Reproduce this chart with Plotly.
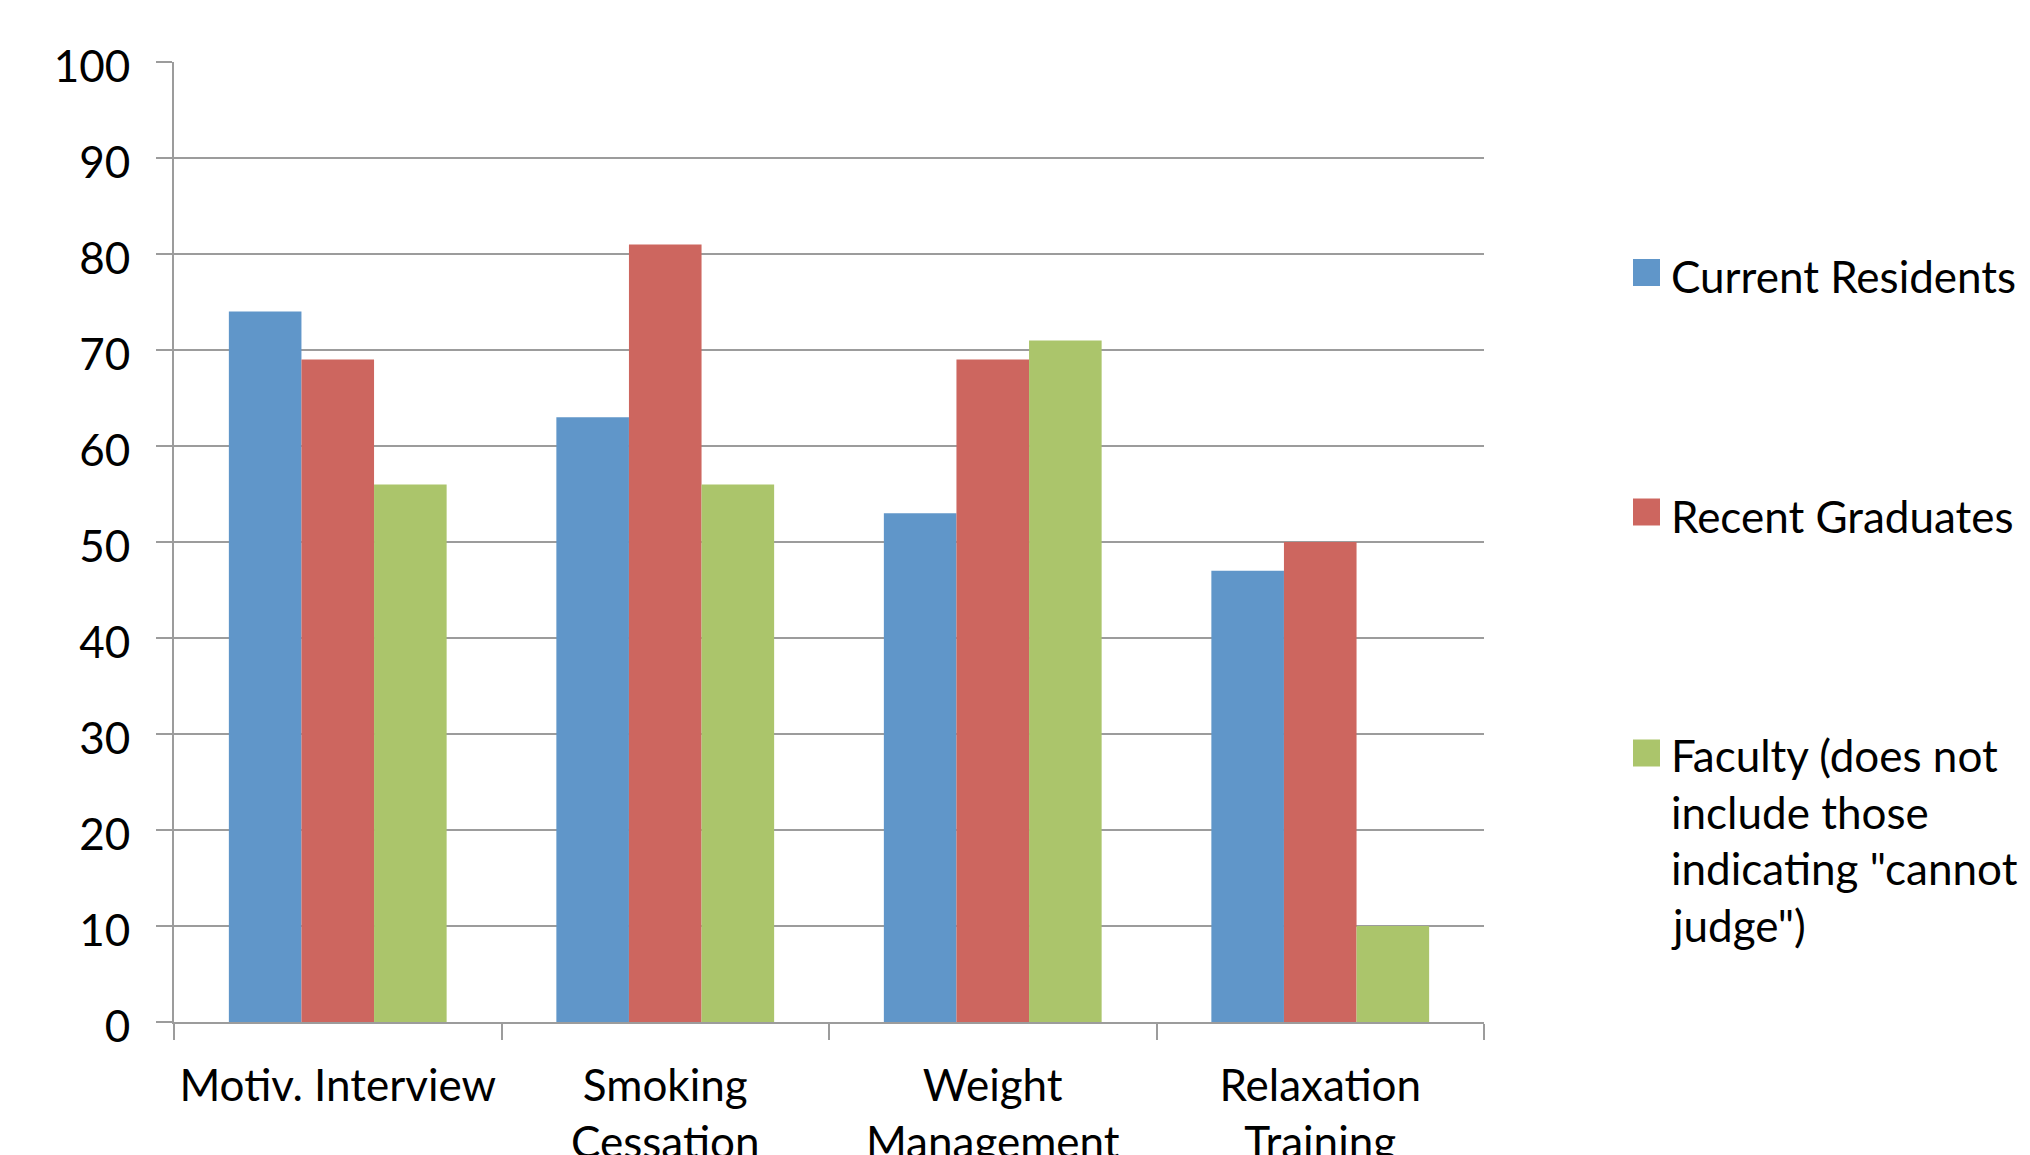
import plotly.graph_objects as go

# ---- data -------------------------------------------------------------
categories = [
    "Motiv. Interview",
    "Smoking<br>Cessation",
    "Weight<br>Management",
    "Relaxation<br>Training",
]
current_residents = [74, 63, 53, 47]
recent_graduates = [69, 81, 69, 50]
faculty = [56, 56, 71, 10]

series_names = [
    "Current Residents",
    "Recent Graduates",
    'Faculty (does not include those indicating "cannot judge")',
]
# legend text, broken into the lines shown beside each swatch
legend_lines = [
    ["Current Residents"],
    ["Recent Graduates"],
    ["Faculty (does not", "include those", 'indicating "cannot', 'judge")'],
]
y_tick_values = [0, 10, 20, 30, 40, 50, 60, 70, 80, 90, 100]

# ---- styling ------------------------------------------------------------
colors = ["#6096C9", "#CD665F", "#ABC56B"]
grid_gray = "#9C9C9C"
FONT = "Lato"
FONT_SIZE = 44

W, H = 2030, 1155
M_L, M_R, M_T, M_B = 174, 546, 62, 133
PLOT_W = W - M_L - M_R
PLOT_H = H - M_T - M_B


def px_to_paper_x(px):
    return (px - M_L) / PLOT_W


def px_to_paper_y(py):
    return (H - M_B - py) / PLOT_H


fig = go.Figure()
for name, vals, col in zip(series_names, [current_residents, recent_graduates, faculty], colors):
    fig.add_trace(
        go.Bar(
            x=categories,
            y=vals,
            name=name,
            marker=dict(color=col, line=dict(width=0)),
            showlegend=False,
            hoverinfo="skip",
        )
    )

# ---- legend drawn beside the plot ----------------------------------------
swatch_centers = [272.5, 512, 753]   # vertical centre of each swatch (px)
swatch_left, swatch_size = 1633, 27
text_left = 1669
line_step = 56.5
shapes = []
annotations = []
for col, lines, cy in zip(colors, legend_lines, swatch_centers):
    shapes.append(
        dict(
            type="rect",
            xref="paper", yref="paper",
            x0=px_to_paper_x(swatch_left), x1=px_to_paper_x(swatch_left + swatch_size),
            y0=px_to_paper_y(cy + swatch_size / 2), y1=px_to_paper_y(cy - swatch_size / 2),
            fillcolor=col, line=dict(width=0),
        )
    )
    first_offset = 4 if len(lines) == 1 else 2
    for i, txt in enumerate(lines):
        annotations.append(
            dict(
                text=txt,
                xref="paper", yref="paper",
                x=px_to_paper_x(text_left), y=px_to_paper_y(cy + first_offset + i * line_step),
                xanchor="left", yanchor="middle",
                showarrow=False,
                font=dict(family=FONT, size=FONT_SIZE, color="#000000"),
            )
        )

fig.update_layout(
    width=W, height=H,
    margin=dict(l=M_L, r=M_R, t=M_T, b=M_B, autoexpand=False),
    paper_bgcolor="white",
    plot_bgcolor="white",
    barmode="group",
    bargap=0.335,
    bargroupgap=0,
    font=dict(family=FONT, size=FONT_SIZE, color="#000000"),
    showlegend=False,
    shapes=shapes,
    annotations=annotations,
)

fig.update_xaxes(
    type="category",
    showgrid=False,
    showline=True, linecolor=grid_gray, linewidth=2,
    ticks="outside", tickson="boundaries", ticklen=16, tickwidth=2, tickcolor=grid_gray,
    ticklabelstandoff=24,
    tickfont=dict(family=FONT, size=FONT_SIZE, color="#000000"),
    automargin=False,
    fixedrange=True,
)

fig.update_yaxes(
    range=[0, 100],
    tickmode="array", tickvals=y_tick_values,
    showgrid=True, gridcolor=grid_gray, gridwidth=2,
    zeroline=False,
    showline=True, linecolor=grid_gray, linewidth=2,
    ticks="outside", ticklen=16, tickwidth=2, tickcolor=grid_gray,
    ticklabelstandoff=17,
    ticklabelshift=5,
    tickfont=dict(family=FONT, size=FONT_SIZE, color="#000000"),
    automargin=False,
    fixedrange=True,
)

fig.write_html("out.html", config={"displayModeBar": False})
